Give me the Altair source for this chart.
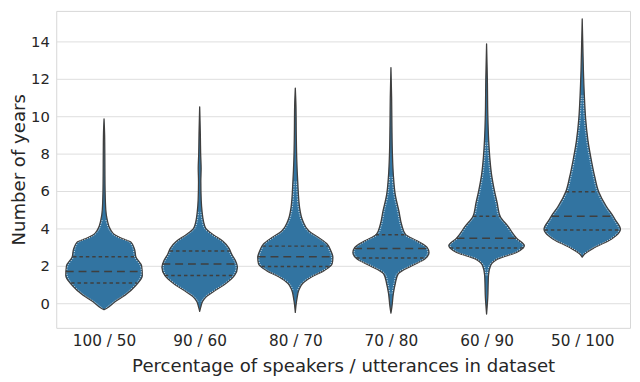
import json
import altair as alt
import pandas as pd

CATEGORIES = ["100 / 50", "90 / 60", "80 / 70", "70 / 80", "60 / 90", "50 / 100"]

# violin outlines: years and half-width (px, max ~39.5)
YEARS_1 = [-0.35, -0.26, 0.09, 0.43, 0.96, 1.48, 2.0, 2.46, 2.88, 3.25, 3.49, 3.66, 3.93, 4.45, 5.0, 6.0, 7.0, 8.0, 9.0, 9.85]
HALF_1 = [0, 3.3, 11.7, 21.7, 33, 39.5, 38.8, 33, 31.5, 28, 17, 11, 6.7, 3.3, 1.8, 1.1, 0.9, 0.8, 0.6, 0]

YEARS_2 = [-0.44, -0.2, 0.09, 0.35, 0.7, 1.05, 1.48, 1.92, 2.27, 2.62, 2.96, 3.31, 3.66, 4.0, 4.36, 4.88, 5.5, 6.5, 7.2, 8.0, 9.0, 10.5]
HALF_2 = [0, 1.2, 3, 7, 16.7, 27, 36, 39, 37, 33, 30, 24, 14, 6.3, 4, 2.5, 1.6, 1.2, 1.5, 1.0, 0.7, 0]

YEARS_3 = [-0.49, 0.17, 0.7, 1.05, 1.4, 1.74, 2.1, 2.45, 2.8, 3.16, 3.51, 3.86, 4.39, 5.09, 6.5, 7.68, 9.0, 10.5, 11.5]
HALF_3 = [0, 1.5, 3.7, 7.5, 16.7, 29.7, 38, 38.8, 36.7, 33, 24, 14, 7.8, 4.5, 2.5, 1.5, 1.0, 0.7, 0]

YEARS_4 = [-0.53, -0.2, 0.52, 1.05, 1.57, 2.01, 2.36, 2.71, 2.97, 3.33, 3.68, 4.21, 4.91, 5.79, 6.84, 8.0, 9.5, 11.0, 12.6]
HALF_4 = [0, 1.0, 2.5, 4.5, 7.5, 21.7, 35, 39.3, 37.5, 27, 15, 11, 8.3, 4.5, 2.5, 1.5, 1.0, 0.7, 0]

YEARS_5 = [-0.58, 0.26, 1.49, 2.02, 2.37, 2.72, 3.07, 3.47, 3.6, 4.12, 4.65, 5.35, 6.05, 6.93, 7.8, 8.68, 10.0, 12.0, 13.86]
HALF_5 = [0, 1.2, 2, 4.2, 11.7, 31, 39, 31, 29, 22, 14, 11, 8, 5, 3.3, 2.2, 1.3, 0.8, 0]

YEARS_6 = [2.46, 2.63, 2.98, 3.42, 3.77, 3.95, 4.47, 4.65, 5.17, 5.96, 6.75, 7.63, 8.68, 9.89, 11.1, 12.5, 15.2]
HALF_6 = [0, 2.5, 13, 30, 38, 39.5, 34, 32, 25, 17, 13, 9.5, 6, 3.5, 2.2, 1.2, 0]

# quartile lines: lower quartile, median, upper quartile and their half-widths
QUART_YEARS = [[1.08, 1.69, 2.48], [1.48, 2.09, 2.79], [1.96, 2.48, 3.05],
               [2.41, 2.92, 3.66], [2.95, 3.47, 4.65], [3.91, 4.65, 5.96]]
QUART_HALF = [[34, 39.5, 32], [36, 38.5, 31], [35, 38.8, 34],
              [36, 38, 16], [38, 31, 14], [39, 32, 17]]

YEARS = [YEARS_1, YEARS_2, YEARS_3, YEARS_4, YEARS_5, YEARS_6]
HALVES = [HALF_1, HALF_2, HALF_3, HALF_4, HALF_5, HALF_6]

rows = []
for i, (ys, hs) in enumerate(zip(YEARS, HALVES)):
    for y, h in zip(ys, hs):
        rows.append({"idx": i, "cat": CATEGORIES[i], "years": y, "hw": h})
df = pd.DataFrame(rows)

qrows = []
for i in range(len(CATEGORIES)):
    for k, (y, h) in enumerate(zip(QUART_YEARS[i], QUART_HALF[i])):
        qrows.append({"idx": i, "cat": CATEGORIES[i], "years": y, "hw": h,
                      "kind": "median" if k == 1 else "quartile"})
qdf = pd.DataFrame(qrows)

MAXW = 39.5
HALF_BAND = 0.4
xscale = alt.Scale(domain=[-0.5, 5.5], nice=False, zero=False)
yscale = alt.Scale(domain=[-1.32, 15.63], nice=False, zero=False)

label_expr = json.dumps(CATEGORIES) + "[datum.value]"
xaxis = alt.Axis(values=list(range(len(CATEGORIES))), labelExpr=label_expr,
                 title="Percentage of speakers / utterances in dataset",
                 grid=False, ticks=False, domain=False, labelFontSize=15.5,
                 titleFontSize=18.4, labelPadding=6, titlePadding=8,
                 labelColor="#262626", titleColor="#262626",
                 labelFont="DejaVu Sans", titleFont="DejaVu Sans", titleFontWeight="normal")
yaxis = alt.Axis(values=list(range(0, 15, 2)), title="Number of years",
                 grid=True, gridColor="#dddddd", gridWidth=1, ticks=False, domain=False,
                 labelFontSize=15, titleFontSize=18.4, labelPadding=7, titlePadding=2,
                 labelColor="#262626", titleColor="#262626",
                 labelFont="DejaVu Sans", titleFont="DejaVu Sans", titleFontWeight="normal")

base = alt.Chart(df).transform_calculate(
    xl=f"datum.idx - {HALF_BAND} * datum.hw / {MAXW}",
    xr=f"datum.idx + {HALF_BAND} * datum.hw / {MAXW}",
    xli=f"datum.idx - {HALF_BAND} * max(datum.hw - 1.4, 0) / {MAXW}",
    xri=f"datum.idx + {HALF_BAND} * max(datum.hw - 1.4, 0) / {MAXW}",
)

area = base.mark_area(orient="horizontal", fill="#3274a1", stroke="#3f3f3f",
                      strokeWidth=1.3, strokeJoin="round", interpolate="monotone").encode(
    y=alt.Y("years:Q", scale=yscale, axis=yaxis),
    x=alt.X("xl:Q", scale=xscale, axis=xaxis),
    x2="xr:Q",
    detail="cat:N",
)

dots_base = base.transform_filter("datum.hw >= 2")
left_dots = dots_base.mark_line(stroke="white", strokeWidth=0.8, strokeDash=[1, 1.5],
                                interpolate="catmull-rom").encode(
    y=alt.Y("years:Q", scale=yscale), x=alt.X("xli:Q", scale=xscale),
    detail="cat:N", order="years:Q")
right_dots = dots_base.mark_line(stroke="white", strokeWidth=0.8, strokeDash=[1, 1.5],
                                 interpolate="catmull-rom").encode(
    y=alt.Y("years:Q", scale=yscale), x=alt.X("xri:Q", scale=xscale),
    detail="cat:N", order="years:Q")

qbase = alt.Chart(qdf).transform_calculate(
    xl=f"datum.idx - {HALF_BAND} * datum.hw / {MAXW}",
    xr=f"datum.idx + {HALF_BAND} * datum.hw / {MAXW}",
)
quart = qbase.transform_filter("datum.kind == 'quartile'").mark_rule(
    stroke="#3f3f3f", strokeWidth=1.5, strokeDash=[3.5, 3]).encode(
    y=alt.Y("years:Q", scale=yscale), x=alt.X("xl:Q", scale=xscale), x2="xr:Q")
med = qbase.transform_filter("datum.kind == 'median'").mark_rule(
    stroke="#3f3f3f", strokeWidth=1.5, strokeDash=[8, 5]).encode(
    y=alt.Y("years:Q", scale=yscale), x=alt.X("xl:Q", scale=xscale), x2="xr:Q")

chart = alt.layer(area, left_dots, right_dots, quart, med).properties(
    width=583, height=322,
    padding={"left": 1, "top": 0, "right": 2, "bottom": 0},
    background="white",
).configure_view(stroke="#d6d6d6", strokeWidth=1)

chart.save("out.html", embed_options={"renderer": "svg", "actions": False})
